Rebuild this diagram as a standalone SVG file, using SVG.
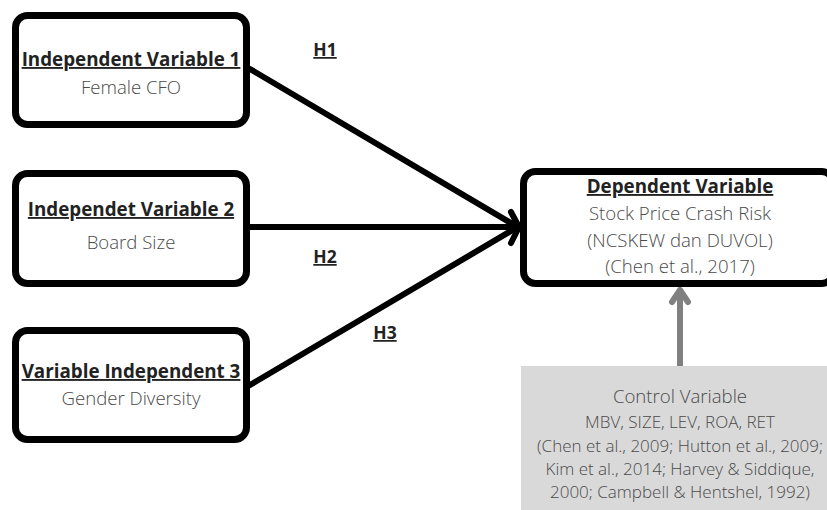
<svg xmlns="http://www.w3.org/2000/svg" width="827" height="510" viewBox="0 0 827 510">
<defs>
<style>
.box{fill:#ffffff;stroke:#000000;stroke-width:7}
.t{font-family:"Open Sans","Noto Sans","DejaVu Sans",sans-serif;text-anchor:middle}
.b{font-weight:700;fill:#222222;text-decoration:underline;font-size:18.8px}
.r{fill:#4a4a4a;font-size:18.6px;font-weight:300}
.s{fill:#4a4a4a;font-size:17px;font-weight:300}
.h{font-family:"Open Sans","Noto Sans",sans-serif;font-weight:700;font-size:17.5px;fill:#222222;text-decoration:underline}
.ln{stroke:#000000;stroke-width:6;fill:none;stroke-linecap:round;stroke-linejoin:round}
.gl{stroke:#808080;stroke-width:6;fill:none;stroke-linecap:round;stroke-linejoin:round}
</style>
</defs>
<rect width="827" height="510" fill="#ffffff"/>
<g id="connectors">
<line class="ln" x1="250" y1="69" x2="516" y2="226"/>
<line class="ln" x1="250" y1="227" x2="516" y2="227"/>
<line class="ln" x1="250" y1="385" x2="516" y2="228"/>
<polyline class="ln" points="511,212 519,227 511,243"/>
<line class="gl" x1="680" y1="366" x2="680" y2="291"/>
<polyline class="gl" points="672,302 680,290 688,302"/>
<text class="h" x="325" y="56" text-anchor="middle">H1</text>
<text class="h" x="325" y="263" text-anchor="middle">H2</text>
<text class="h" x="385" y="339" text-anchor="middle">H3</text>
</g>
<g id="iv1">
<rect class="box" x="15.5" y="15.5" width="231" height="109" rx="12"/>
<text class="t b" x="131" y="66">Independent Variable 1</text>
<text class="t r" x="131" y="94">Female CFO</text>
</g>
<g id="iv2">
<rect class="box" x="15.5" y="173.5" width="231" height="110" rx="12"/>
<text class="t b" x="131" y="216">Independet Variable 2</text>
<text class="t r" x="131" y="249">Board Size</text>
</g>
<g id="iv3">
<rect class="box" x="15.5" y="330.5" width="231" height="109" rx="12"/>
<text class="t b" x="131" y="378">Variable Independent 3</text>
<text class="t r" x="131" y="405">Gender Diversity</text>
</g>
<g id="dv">
<rect class="box" x="523.5" y="171.5" width="310" height="112" rx="12"/>
<text class="t b" x="680" y="193">Dependent Variable</text>
<text class="t r" x="680" y="220">Stock Price Crash Risk</text>
<text class="t r" x="680" y="247">(NCSKEW dan DUVOL)</text>
<text class="t r" x="680" y="273">(Chen et al., 2017)</text>
</g>
<g id="cv">
<rect x="521" y="366" width="310" height="150" fill="#d9d9d9"/>
<text class="t r" x="680" y="403">Control Variable</text>
<text class="t s" x="680" y="428">MBV, SIZE, LEV, ROA, RET</text>
<text class="t s" x="680" y="452">(Chen et al., 2009; Hutton et al., 2009;</text>
<text class="t s" x="680" y="475">Kim et al., 2014; Harvey &amp; Siddique,</text>
<text class="t s" x="680" y="498">2000; Campbell &amp; Hentshel, 1992)</text>
</g>
</svg>
